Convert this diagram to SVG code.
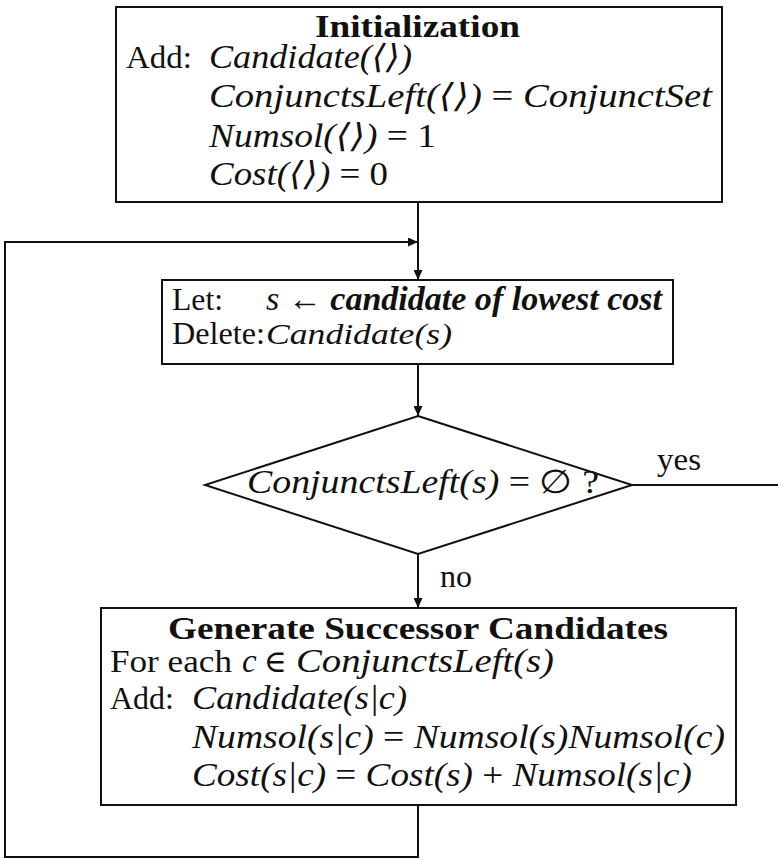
<svg xmlns="http://www.w3.org/2000/svg" width="778" height="859" viewBox="0 0 778 859">
  <style>
    .box { fill: #fff; stroke: #111; stroke-width: 2; }
    .ln { fill: none; stroke: #111; stroke-width: 2; }
    text { font-family: "Liberation Serif", "DejaVu Serif", serif; fill: #111; }
    .rm { font-size: 31px; }
    .bf { font-size: 32px; font-weight: bold; }
    .mi { font-size: 33px; font-style: italic; }
    .up { font-style: normal; }
    .bi { font-style: italic; font-weight: bold; }
  </style>
  <defs>
    <marker id="head" markerUnits="userSpaceOnUse" markerWidth="10" markerHeight="9" refX="10" refY="4.5" orient="auto">
      <path d="M0,0 L10,4.5 L0,9 z" fill="#111"/>
    </marker>
  </defs>

  <!-- connectors -->
  <g id="connectors">
    <line class="ln" x1="418" y1="202" x2="418" y2="280" marker-end="url(#head)"/>
    <polyline class="ln" points="418,805 418,857 5,857 5,242 418,242" marker-end="url(#head)"/>
    <line class="ln" x1="418" y1="364" x2="418" y2="416" marker-end="url(#head)"/>
    <line class="ln" x1="418" y1="554" x2="418" y2="608" marker-end="url(#head)"/>
    <line class="ln" x1="632" y1="485" x2="778" y2="485"/>
    <text class="rm" x="657" y="470" textLength="44" lengthAdjust="spacingAndGlyphs">yes</text>
    <text class="rm" x="440" y="587" textLength="32" lengthAdjust="spacingAndGlyphs">no</text>
  </g>

  <!-- initialization block -->
  <g id="init">
    <rect class="box" x="116" y="7" width="606" height="195"/>
    <text class="bf" x="315" y="37" textLength="205" lengthAdjust="spacingAndGlyphs">Initialization</text>
    <text class="rm" x="126" y="68" textLength="66" lengthAdjust="spacingAndGlyphs">Add:</text>
    <text class="mi" x="209" y="68" textLength="203" lengthAdjust="spacingAndGlyphs">Candidate(⟨⟩)</text>
    <text class="mi" x="209" y="107" textLength="503" lengthAdjust="spacingAndGlyphs">ConjunctsLeft(⟨⟩) <tspan class="up">=</tspan> ConjunctSet</text>
    <text class="mi" x="209" y="147" textLength="227" lengthAdjust="spacingAndGlyphs">Numsol(⟨⟩) <tspan class="up">= 1</tspan></text>
    <text class="mi" x="209" y="185" textLength="179" lengthAdjust="spacingAndGlyphs">Cost(⟨⟩) <tspan class="up">= 0</tspan></text>
  </g>

  <!-- selection block -->
  <g id="select">
    <rect class="box" x="162" y="280" width="511" height="84"/>
    <text class="rm" x="172" y="310" textLength="51" lengthAdjust="spacingAndGlyphs">Let:</text>
    <text class="mi" x="266" y="310" textLength="396" lengthAdjust="spacingAndGlyphs">s ← <tspan class="bi">candidate of lowest cost</tspan></text>
    <text class="rm" x="172" y="344" textLength="93" lengthAdjust="spacingAndGlyphs">Delete:</text>
    <text class="mi" x="266" y="344" style="font-size:30px" textLength="186" lengthAdjust="spacingAndGlyphs">Candidate(s)</text>
  </g>

  <!-- termination test -->
  <g id="test">
    <polygon class="box" points="418,416 632,485 418,554 205,485"/>
    <text class="mi" x="247" y="493" textLength="352" lengthAdjust="spacingAndGlyphs">ConjunctsLeft(s) <tspan class="up">= ∅ ?</tspan></text>
  </g>

  <!-- successor generation block -->
  <g id="expand">
    <rect class="box" x="101" y="608" width="635" height="197"/>
    <text class="bf" x="168" y="639" textLength="500" lengthAdjust="spacingAndGlyphs">Generate Successor Candidates</text>
    <text class="rm" x="110" y="672" textLength="122" lengthAdjust="spacingAndGlyphs">For each</text>
    <text class="mi" x="242" y="672">c</text>
    <text class="rm" x="264" y="672">∈</text>
    <text class="mi" x="296" y="672" textLength="258" lengthAdjust="spacingAndGlyphs">ConjunctsLeft(s)</text>
    <text class="rm" x="110" y="709" textLength="64" lengthAdjust="spacingAndGlyphs">Add:</text>
    <text class="mi" x="192" y="709" textLength="215" lengthAdjust="spacingAndGlyphs">Candidate(s|c)</text>
    <text class="mi" x="192" y="748" textLength="533" lengthAdjust="spacingAndGlyphs">Numsol(s|c) <tspan class="up">=</tspan> Numsol(s)Numsol(c)</text>
    <text class="mi" x="192" y="786" textLength="500" lengthAdjust="spacingAndGlyphs">Cost(s|c) <tspan class="up">=</tspan> Cost(s) <tspan class="up">+</tspan> Numsol(s|c)</text>
  </g>
</svg>
